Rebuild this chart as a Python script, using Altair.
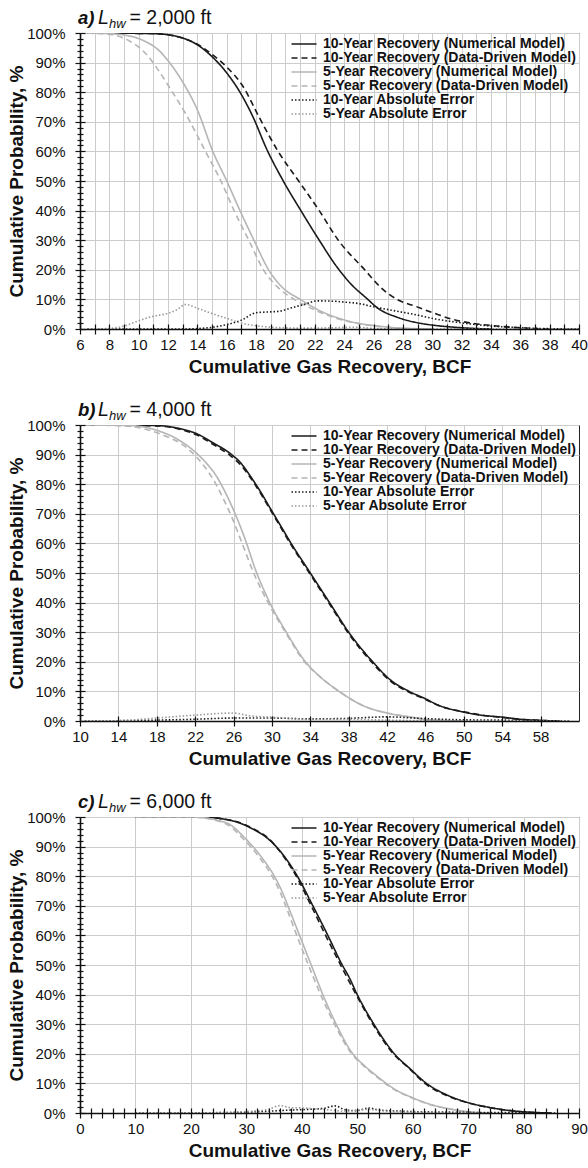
import altair as alt
import pandas as pd

FONT = "Liberation Sans"

SERIES = [
    "10-Year Recovery (Numerical Model)",
    "10-Year Recovery (Data-Driven Model)",
    "5-Year Recovery (Numerical Model)",
    "5-Year Recovery (Data-Driven Model)",
    "10-Year Absolute Error",
    "5-Year Absolute Error",
]
COLORS = ["#1a1a1a", "#1a1a1a", "#b5b5b5", "#b5b5b5", "#1a1a1a", "#9a9a9a"]
DASHES = [[1, 0], [6, 4], [1, 0], [6, 4], [1.5, 2], [1.5, 2]]
WIDTHS = [1.6, 1.6, 1.9, 1.9, 1.4, 1.4]

# ---------------- panel a (L_hw = 2,000 ft) ----------------
a_num10 = [(6.5, 100), (11, 99.8), (12, 99.4), (13, 98.3), (14, 96), (15, 92), (16, 86.5), (16.9, 80),
           (17.8, 71.5), (18.7, 61), (19.85, 50), (21.05, 40), (22.3, 30), (23.5, 21), (24.5, 15),
           (25.5, 10.5), (26.3, 7), (27.6, 4), (28.9, 2.2), (30.2, 1.2), (31.5, 0.6), (32.8, 0.2), (34, 0)]
a_dd10 = [(6.5, 100), (11, 99.8), (12, 99.4), (13, 98.3), (14, 96.2), (15, 92.8), (16, 88.5), (17.1, 82),
          (18.2, 71.6), (19.5, 60), (20.9, 50), (22.3, 40), (23.6, 30), (25.4, 20), (26.5, 14),
          (27.6, 10), (28.9, 7.6), (30.2, 5.2), (31.5, 3.1), (32.8, 1.9), (34, 1.2), (35.4, 0.6),
          (36.7, 0.2), (38, 0)]
a_num5 = [(6.5, 100), (8, 99.8), (8.9, 99.4), (10.3, 97.5), (11.4, 94), (12.1, 90), (13.05, 83),
          (14, 74), (15.05, 60), (16, 50), (16.9, 40), (17.85, 30), (18.85, 20), (19.8, 14),
          (21, 10), (22.5, 5.8), (23.8, 3.4), (25, 1.9), (26.3, 1.0), (27.6, 0.4), (29, 0.1), (30, 0)]
a_dd5 = [(6.5, 100), (7.2, 99.8), (8.2, 99.4), (9.3, 97.5), (10.5, 92.9), (11.4, 87), (12.3, 80),
         (13.2, 72.7), (14.55, 60), (15.6, 50), (16.5, 40), (17.5, 30), (18.5, 20), (19.5, 14),
         (20.6, 10), (22.2, 6), (23.6, 3.4), (25, 1.8), (26.3, 0.9), (27.6, 0.3), (29, 0)]
a_err10 = [(6.5, 0), (13, 0), (14.7, 0.4), (16, 1.5), (17, 3), (18, 5.5), (19, 5.8), (19.6, 6),
           (20.3, 7), (21.2, 8.2), (22.2, 9.5), (23.2, 9.4), (24, 9.1), (25, 8.6), (26, 7.5),
           (27.6, 6), (28.9, 4.8), (30.2, 3.4), (31.5, 2.4), (32.8, 1.6), (34, 1.0), (35.3, 0.6),
           (36.7, 0.3), (38, 0.1), (40, 0)]
a_err5 = [(6.5, 0), (8, 0.2), (9, 1), (10, 2.8), (11, 4.3), (12, 5.3), (12.6, 6.5), (13.2, 8.3),
          (14, 7), (15, 5.2), (16, 3.6), (17, 2), (18, 1.1), (19, 0.6), (20, 0.4), (21, 0.3),
          (23, 0.4), (24.8, 0.6), (26, 0.2), (28, 0), (40, 0)]

# ---------------- panel b (L_hw = 4,000 ft) ----------------
b_num10 = [(10.5, 100), (18, 99.8), (20.5, 98.7), (22.2, 97), (23.9, 93.9), (25.6, 90.5), (26.8, 87),
           (27.8, 82.5), (28.8, 77.5), (29.8, 72), (30.9, 66), (32, 60), (34, 50), (36, 40), (38, 30),
           (40.5, 20), (42.3, 14), (44.3, 10), (46, 7.5), (47.3, 5.4), (50, 3), (51.7, 2), (54, 1.3),
           (55.8, 0.6), (58, 0.2), (60, 0)]
b_dd10 = [(10.5, 100), (18, 99.7), (20.5, 98.5), (22.2, 96.6), (23.9, 93.4), (25.6, 89.8), (26.8, 86.3),
          (27.8, 82), (28.8, 77), (29.8, 71.5), (30.9, 65.5), (32, 59.5), (34, 49.5), (36, 39.5),
          (38, 29.5), (40.5, 19.5), (42.3, 13.6), (44.3, 9.7), (46, 7.3), (47.3, 5.3), (50, 3.1),
          (51.7, 2.1), (54, 1.2), (55.8, 0.6), (58, 0.2), (60, 0)]
b_num5 = [(10.5, 100), (15.3, 99.8), (18.1, 98.1), (20.1, 95.3), (22.2, 90.3), (23.2, 87), (24.2, 82.8),
          (25.1, 77.5), (26.1, 70.5), (27.2, 61.5), (28.3, 51), (29.7, 40.5), (31.5, 30), (33.5, 20),
          (35, 15), (37, 10), (39.7, 4.9), (42, 2.7), (44.9, 1.1), (46, 0.5), (47.6, 0.2), (50, 0)]
b_dd5 = [(10.5, 100), (14, 99.8), (16.4, 98.9), (18.8, 96.4), (20.8, 93.1), (21.9, 90), (22.85, 86.5),
         (23.9, 81.5), (24.8, 76), (25.8, 69), (26.9, 60), (28.1, 50), (29.6, 40), (31.4, 30),
         (33.4, 20), (35, 15), (37, 10), (39.7, 4.9), (42, 2.7), (44.9, 1.1), (46, 0.5), (47.6, 0.2),
         (50, 0)]
b_err10 = [(10.5, 0), (14, 0.1), (18, 0.3), (22, 0.6), (26, 1.0), (30, 1.0), (34, 0.7), (38, 0.9),
           (42, 1.4), (46, 0.8), (50, 0.4), (54, 0.3), (58, 0.1), (61, 0)]
b_err5 = [(10.5, 0), (14, 0.1), (18, 1.0), (22, 2.0), (26, 2.7), (27.6, 1.8), (30, 1.3), (34, 0.6),
          (38, 0.6), (42, 0.3), (46, 0.1), (50, 0), (61, 0)]

# ---------------- panel c (L_hw = 6,000 ft) ----------------
c_num10 = [(10, 100), (21.4, 100), (27.5, 98.7), (31.1, 96), (34.2, 92.2), (36.6, 87.3), (39.3, 79.7),
           (42, 70), (44.7, 60), (47.3, 50), (48.5, 46), (50, 40), (53, 30), (56.7, 20), (59.5, 15),
           (62.5, 10), (66.3, 6), (70.4, 3.3), (73.8, 1.9), (77.2, 0.9), (80.6, 0.35), (83, 0.1), (85, 0)]
c_dd10 = [(10, 100), (21.4, 100), (27.5, 98.8), (31.1, 96.2), (34.2, 92.4), (36.6, 87), (39, 80),
          (41.7, 70), (44.3, 60), (47, 50), (49.8, 40), (52.8, 30), (56.5, 20), (59.4, 15), (62.2, 10),
          (66, 6), (70.2, 3.3), (73.6, 1.9), (77, 0.9), (80.5, 0.3), (83, 0.1), (85, 0)]
c_num5 = [(10, 100), (20, 100), (26.3, 98.1), (29.9, 92.6), (32.9, 86), (34.9, 80.5), (36.4, 75),
          (37.7, 69), (39.6, 60), (41.7, 50), (43.8, 40), (46.2, 30), (49.2, 20), (51.3, 16), (53.4, 12.7),
          (56.8, 8), (60.2, 5), (63.6, 2.7), (67, 1.3), (70.4, 0.35), (74, 0)]
c_dd5 = [(10, 100), (20, 100), (26, 98), (29.5, 92.5), (32.5, 86), (34.5, 80.5), (36, 75), (37.3, 69),
         (39.1, 60), (41.2, 50), (43.4, 40), (45.9, 30), (49, 20), (51.1, 16), (53.2, 12.7), (56.6, 8),
         (60, 5), (63.4, 2.7), (66.8, 1.3), (70.2, 0.35), (74, 0)]
c_err10 = [(10, 0), (24, 0.1), (30, 0.3), (34, 0.6), (38, 1.0), (42, 1.3), (44, 1.6), (46, 2.4),
           (48, 1.0), (50, 0.8), (52, 1.7), (54, 1.0), (58, 0.6), (62, 0.4), (66, 0.3), (70, 0.2),
           (80, 0.1), (86, 0)]
c_err5 = [(10, 0), (24, 0.1), (30, 0.5), (34, 1.2), (36, 2.5), (38, 1.8), (40, 1.7), (44, 1.2),
          (48, 0.6), (52, 1.2), (56, 0.5), (60, 0.3), (66, 0.1), (72, 0)]

# axis tick / grid values
Y_LABELS = list(range(0, 101, 10))
Y_MINOR = [v for v in range(0, 101, 2) if v % 10]

A_XDOM = [6, 40]
A_XLABELS = list(range(6, 41, 2))
A_XGRID = list(range(6, 41, 1))
A_XTICKS = list(range(6, 41, 1))

B_XDOM = [10, 62]
B_XLABELS = list(range(10, 59, 4))
B_XGRID = list(range(10, 59, 4))
B_XTICKS = list(range(10, 59, 4))

C_XDOM = [0, 90]
C_XLABELS = list(range(0, 91, 10))
C_XGRID = list(range(0, 91, 10))
C_XTICKS = list(range(0, 91, 2))

PW, PH = 499, 296


def frame(lists):
    rows = []
    for name, pts in zip(SERIES, lists):
        for i, (x, y) in enumerate(pts):
            rows.append({"series": name, "x": x, "y": y, "i": i})
    return pd.DataFrame(rows)


LEG = alt.Legend(
    title=None, orient="none", legendX=215, legendY=2, padding=2,
    symbolType="M-5,0H5", symbolSize=25, labelOffset=12,
    labelFont=FONT, labelFontSize=14, labelFontWeight="bold", labelColor="#111111",
    labelLimit=500, rowPadding=-1.1,
)


def panel(df, xdom, xlabels, xgrid, xticks, letter, rest):
    xs = alt.Scale(domain=xdom, nice=False, zero=False)
    ys = alt.Scale(domain=[0, 100], nice=False, zero=False)
    base = alt.Chart(df)

    grid = base.mark_point(opacity=0).encode(
        x=alt.X("x:Q", scale=xs, axis=alt.Axis(orient="bottom", values=xgrid, grid=True, gridColor="#cccccc",
                                                gridWidth=1, labels=False, ticks=False, domain=False,
                                                title=None, zindex=0)),
        y=alt.Y("y:Q", scale=ys, axis=alt.Axis(orient="left", values=Y_LABELS, grid=True, gridColor="#cccccc",
                                                gridWidth=1, labels=False, ticks=False, domain=False,
                                                title=None, zindex=0)),
    )

    lines = base.mark_line(clip=True, interpolate="monotone").encode(
        x=alt.X("x:Q", scale=xs, axis=alt.Axis(
            orient="bottom", values=xlabels, ticks=False, grid=False, domain=True, domainColor="#111111",
            domainWidth=1.6, labelFont=FONT, labelFontSize=15, labelColor="#111111", labelPadding=8,
            labelFlush=False, title="Cumulative Gas Recovery, BCF", titleFont=FONT, titleFontSize=19,
            titleFontWeight="bold", titleColor="#111111", titlePadding=5, zindex=2)),
        y=alt.Y("y:Q", scale=ys, axis=alt.Axis(
            orient="left", values=Y_LABELS, labelExpr="datum.value + '%'", ticks=False, grid=False,
            domain=True, domainColor="#111111", domainWidth=1.6, labelFont=FONT, labelFontSize=15,
            labelColor="#111111", labelPadding=15, title="Cumulative Probability, %", titleFont=FONT,
            titleFontSize=19, titleFontWeight="bold", titleColor="#111111", titlePadding=0, zindex=2)),
        color=alt.Color("series:N", scale=alt.Scale(domain=SERIES, range=COLORS), legend=LEG),
        strokeDash=alt.StrokeDash("series:N", scale=alt.Scale(domain=SERIES, range=DASHES), legend=LEG),
        strokeWidth=alt.StrokeWidth("series:N", scale=alt.Scale(domain=SERIES, range=WIDTHS), legend=LEG),
        order=alt.Order("i:Q"),
    )

    def ticks(xvals, yvals, size, offset):
        xa = alt.Axis(orient="bottom", values=xvals, tickSize=size, offset=offset, tickColor="#111111",
                      tickWidth=1.2, labels=False, domain=False, grid=False, title=None, zindex=2)
        ya = alt.Axis(orient="left", values=yvals, tickSize=size, offset=offset, tickColor="#111111",
                      tickWidth=1.2, labels=False, domain=False, grid=False, title=None, zindex=2)
        return base.mark_point(opacity=0).encode(
            x=alt.X("x:Q", scale=xs, axis=xa if xvals else None),
            y=alt.Y("y:Q", scale=ys, axis=ya),
        )

    t_out = ticks(xticks, Y_LABELS, 5, 0)
    t_in = ticks(xticks, Y_LABELS, 5, -5)
    m_out = ticks([], Y_MINOR, 3, 0)
    m_in = ticks([], Y_MINOR, 3, -3)

    def txt(s, x, y, size, weight, style):
        return alt.Chart(pd.DataFrame({"t": [s]})).mark_text(
            align="left", baseline="alphabetic", font=FONT, fontSize=size, fontWeight=weight,
            fontStyle=style, color="#111111").encode(text="t:N", x=alt.value(x), y=alt.value(y))

    title = [
        txt(letter, -2, -9, 18.5, "bold", "italic"),
        txt("L", 18, -9, 19.5, "normal", "italic"),
        txt("hw", 29, -5, 13, "normal", "italic"),
        txt(rest, 49.5, -9, 19.5, "normal", "normal"),
    ]

    return alt.layer(grid, lines, t_out, t_in, m_out, m_in, *title).resolve_axis(
        x="independent", y="independent").properties(width=PW, height=PH)


pa = panel(frame([a_num10, a_dd10, a_num5, a_dd5, a_err10, a_err5]), A_XDOM, A_XLABELS, A_XGRID, A_XTICKS,
           "a)", "= 2,000 ft")
pb = panel(frame([b_num10, b_dd10, b_num5, b_dd5, b_err10, b_err5]), B_XDOM, B_XLABELS, B_XGRID, B_XTICKS,
           "b)", "= 4,000 ft")
pc = panel(frame([c_num10, c_dd10, c_num5, c_dd5, c_err10, c_err5]), C_XDOM, C_XLABELS, C_XGRID, C_XTICKS,
           "c)", "= 6,000 ft")

chart = alt.vconcat(pa, pb, pc, spacing=22).resolve_scale(
    color="independent", strokeDash="independent", strokeWidth="independent"
).properties(
    padding={"left": 7, "top": 7, "right": 0, "bottom": 2}
).configure(font=FONT).configure_view(stroke="#222222", strokeWidth=1)

chart.save("out.html", embed_options={"renderer": "svg", "actions": False})
